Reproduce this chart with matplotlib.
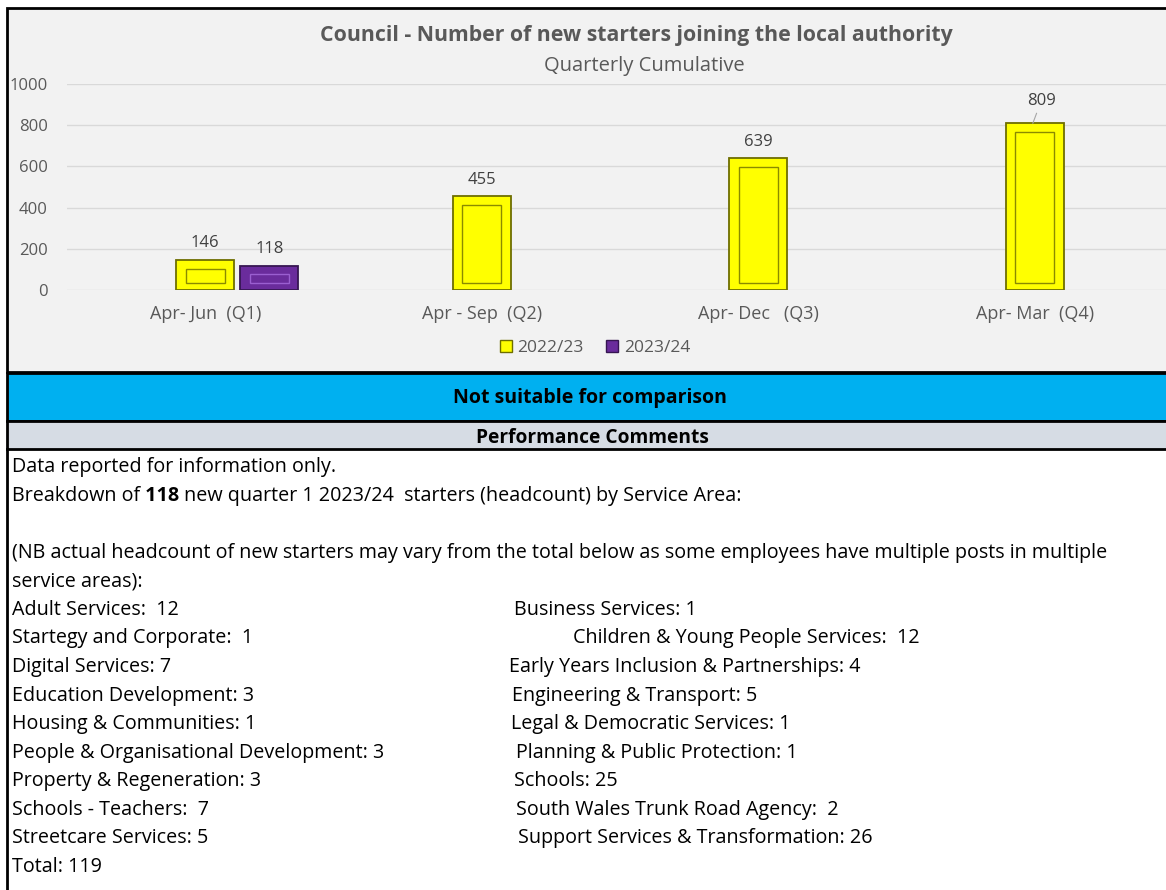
import numpy as np
import matplotlib
matplotlib.use("Agg")
import matplotlib.pyplot as plt
from matplotlib.patches import Rectangle, Patch

plt.rcParams['font.family'] = ['Open Sans', 'DejaVu Sans']

# data
quarters = ['Apr- Jun  (Q1)', 'Apr - Sep  (Q2)', 'Apr- Dec   (Q3)', 'Apr- Mar  (Q4)']
starters_2223 = [146, 455, 639, 809]
starters_2324 = [118]          # only Q1 reported so far
series_names = ['2022/23', '2023/24']
yticks = [0, 200, 400, 600, 800, 1000]

title = 'Council - Number of new starters joining the local authority'
subtitle = 'Quarterly Cumulative'
band_text = 'Not suitable for comparison'
comments_head = 'Performance Comments'

left_lines = ['Adult Services:  12', 'Startegy and Corporate:  1', 'Digital Services: 7',
              'Education Development: 3', 'Housing & Communities: 1',
              'People & Organisational Development: 3', 'Property & Regeneration: 3',
              'Schools - Teachers:  7', 'Streetcare Services: 5', 'Total: 119']
right_lines = ['Business Services: 1', 'Children & Young People Services:  12',
               'Early Years Inclusion & Partnerships: 4', 'Engineering & Transport: 5',
               'Legal & Democratic Services: 1', 'Planning & Public Protection: 1',
               'Schools: 25', 'South Wales Trunk Road Agency:  2',
               'Support Services & Transformation: 26']
right_x = [514, 573, 509, 512, 511, 516, 514, 516, 518]

W, H = 1166, 890
YEL, YEL_E = '#FFFF00', '#6E6E00'
PUR, PUR_E = '#6A2C9C', '#361652'
GREY_TXT = '#595959'


def px(x0, y0, x1, y1):
    return [x0 / W, 1 - y1 / H, (x1 - x0) / W, (y1 - y0) / H]


fig = plt.figure(figsize=(W / 100, H / 100), dpi=100)
fig.patch.set_facecolor('white')

# background panels, bands, borders, texts in pixel space
bg = fig.add_axes([0, 0, 1, 1], zorder=0)
bg.set_xlim(0, W)
bg.set_ylim(H, 0)
bg.axis('off')
bg.add_patch(Rectangle((7, 8), W, 364, facecolor='#F2F2F2', edgecolor='black', lw=2))
bg.add_patch(Rectangle((7, 373), W, 48, facecolor='#00B0F0', edgecolor='black', lw=2))
bg.add_patch(Rectangle((7, 421), W, 28, facecolor='#D6DCE4', edgecolor='black', lw=2))
bg.plot([7, 7], [449, H], color='black', lw=2)

bg.text(636, 35, title, ha='center', va='center', fontsize=15.3, fontweight='bold', color=GREY_TXT)
bg.text(644, 66, subtitle, ha='center', va='center', fontsize=14.5, color=GREY_TXT)
bg.text(590, 398, band_text, ha='center', va='center', fontsize=14, fontweight='bold', color='black')
bg.text(592, 438, comments_head, ha='center', va='center', fontsize=13.8, fontweight='bold', color='black')

fs = 14.2
step = 28.57
y0 = 467
bg.text(12, y0, 'Data reported for information only.', va='center', fontsize=fs)
t1 = bg.text(12, y0 + step, 'Breakdown of', va='center', fontsize=fs)
t2 = bg.annotate(' 118', xy=(1, 0), xycoords=t1, va='bottom', fontsize=fs, fontweight='bold')
bg.annotate(' new quarter 1 2023/24  starters (headcount) by Service Area:', xy=(1, 0),
            xycoords=t2, va='bottom', fontsize=fs)
bg.text(12, y0 + 3 * step, '(NB actual headcount of new starters may vary from the total below '
        'as some employees have multiple posts in multiple', va='center', fontsize=fs)
bg.text(12, y0 + 4 * step, 'service areas):', va='center', fontsize=fs)
for i, s in enumerate(left_lines):
    bg.text(12, y0 + (5 + i) * step, s, va='center', fontsize=fs)
for i, s in enumerate(right_lines):
    bg.text(right_x[i], y0 + (5 + i) * step, s, va='center', fontsize=fs)

# chart
ax = fig.add_axes(px(67, 84, 1166, 290), zorder=1)
ax.patch.set_alpha(0)
x = np.arange(len(quarters))
x2 = np.arange(len(starters_2324))
bw = 0.21
off = 0.232
v1 = np.array(starters_2223)
v2 = np.array(starters_2324)

ax.bar(x, v1, width=bw, color=YEL, edgecolor=YEL_E, lw=1.3, zorder=3)
ax.bar(x, v1 - 77, bottom=35, width=bw - 0.07, fill=False, edgecolor='#8A8A00', lw=1, zorder=4)
ax.bar(x2 + off, v2, width=bw, color=PUR, edgecolor=PUR_E, lw=1.3, zorder=3)
ax.bar(x2 + off, v2 - 77, bottom=35, width=bw - 0.07, fill=False, edgecolor='#9A5FD0', lw=1, zorder=4)

for xi, v in zip(x[:-1], v1[:-1]):
    ax.annotate(str(v), (xi, v), xytext=(0, 12), textcoords='offset points',
                ha='center', va='center', fontsize=12, color='#404040')
ax.annotate(str(v1[-1]), (x[-1] - 0.007, v1[-1]), xytext=(6, 16), textcoords='offset points',
            ha='center', va='center', fontsize=12, color='#404040',
            arrowprops=dict(arrowstyle='-', color='#A6A6A6', lw=0.8, shrinkA=1, shrinkB=0))
for xi, v in zip(x2 + off, v2):
    ax.annotate(str(v), (xi, v), xytext=(0, 12), textcoords='offset points',
                ha='center', va='center', fontsize=12, color='#404040')

ax.set_xlim(-0.5, -0.5 + (1166 - 67) / 276.5)
ax.set_ylim(0, 1000)
ax.set_yticks(yticks)
ax.set_xticks(x)
ax.set_xticklabels(quarters)
ax.grid(axis='y', color='#D9D9D9', lw=1, zorder=0)
ax.set_axisbelow(True)
for sp in ax.spines.values():
    sp.set_visible(False)
ax.tick_params(axis='y', length=0, pad=14, labelsize=12, colors=GREY_TXT)
ax.tick_params(axis='x', length=0, pad=11, labelsize=13, colors=GREY_TXT)

handles = [Patch(facecolor=YEL, edgecolor=YEL_E), Patch(facecolor=PUR, edgecolor=PUR_E)]
fig.legend(handles, series_names, loc='center', bbox_to_anchor=(595 / W, 1 - 348 / H),
           ncol=2, frameon=False, handlelength=0.7, handleheight=0.7, handletextpad=0.3,
           columnspacing=1.3, fontsize=12.5, labelcolor=GREY_TXT)

fig.savefig('out.png', dpi=100, facecolor='white')
